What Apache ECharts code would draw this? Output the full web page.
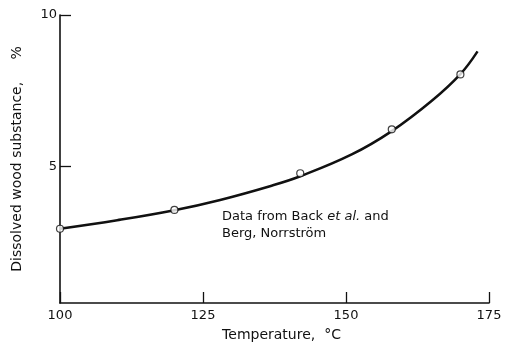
<!DOCTYPE html>
<html>
<head>
<meta charset="utf-8">
<script src="https://cdn.jsdelivr.net/npm/echarts@6/dist/echarts.min.js"></script>
<style>
html,body{margin:0;padding:0;background:#fff;}
#c{width:506px;height:349px;}
</style>
</head>
<body>
<div id="c"></div>
<script>
// Measured data points (temperature °C, dissolved wood substance %)
const pointTemps = [100, 120, 142, 158, 170];
const pointValues = [2.95, 3.57, 4.78, 6.23, 8.04];
// Fitted curve
const curveTemps = [100, 110, 120, 128, 137, 142, 151, 158, 165, 170, 173];
const curveValues = [2.95, 3.23, 3.56, 3.9, 4.37, 4.68, 5.4, 6.17, 7.17, 8.05, 8.8];
const xTicks = [100, 125, 150, 175];
const yTicks = [5, 10];

const fontFam = '"DejaVu Sans", sans-serif';
const chart = echarts.init(document.getElementById('c'), null, {renderer: 'canvas'});
chart.setOption({
  animation: false,
  backgroundColor: '#fff',
  grid: {left: 60, right: 17, top: 15, bottom: 46, containLabel: false},
  xAxis: {
    type: 'value', min: 100, max: 175,
    name: 'Temperature,  °C', nameLocation: 'middle', nameGap: 25,
    nameTextStyle: {fontFamily: fontFam, fontSize: 14, color: '#111', padding: [0, 0, 0, 14]},
    axisLine: {show: true, lineStyle: {color: '#111', width: 1.6}},
    axisTick: {show: true, inside: true, length: 11, customValues: xTicks, lineStyle: {color: '#111', width: 1.3}},
    axisLabel: {customValues: xTicks, fontFamily: fontFam, fontSize: 13, color: '#111', margin: 6},
    splitLine: {show: false}
  },
  yAxis: {
    type: 'value', min: 0.5, max: 10,
    name: 'Dissolved wood substance,     %', nameLocation: 'middle', nameGap: 36,
    nameTextStyle: {fontFamily: fontFam, fontSize: 14, color: '#111'},
    axisLine: {show: true, lineStyle: {color: '#111', width: 1.6}},
    axisTick: {show: true, inside: true, length: 11, customValues: yTicks, lineStyle: {color: '#111', width: 1.3}},
    axisLabel: {customValues: yTicks, fontFamily: fontFam, fontSize: 13, color: '#111', margin: 3},
    splitLine: {show: false}
  },
  graphic: [{
    type: 'text', left: 222, top: 208,
    style: {
      text: 'Data from Back {i|et al.} and\nBerg, Norrström',
      font: '13px ' + fontFam, fill: '#111', lineHeight: 17,
      rich: {i: {fontStyle: 'italic', fontFamily: fontFam, fontSize: 13, fill: '#111'}}
    }
  }],
  series: [
    {
      type: 'line', smooth: 0.4, symbol: 'none',
      data: curveTemps.map((t, i) => [t, curveValues[i]]),
      lineStyle: {color: '#111', width: 2.5}, z: 2
    },
    {
      type: 'scatter', symbol: 'circle', symbolSize: 7,
      data: pointTemps.map((t, i) => [t, pointValues[i]]),
      itemStyle: {color: '#fff', borderColor: '#111', borderWidth: 1.2}, z: 3
    }
  ]
});
</script>
</body>
</html>
